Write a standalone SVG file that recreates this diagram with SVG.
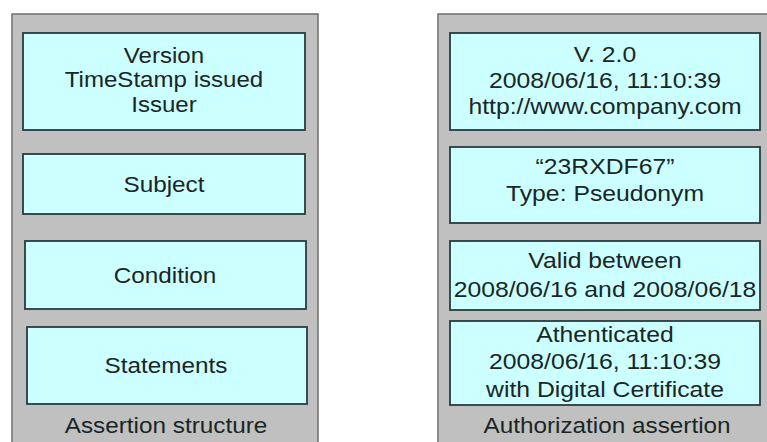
<svg xmlns="http://www.w3.org/2000/svg" width="767" height="442" viewBox="0 0 767 442">
  <style>
    .panel { fill: #c0c0c0; stroke: #6e6e6e; stroke-width: 1.5; }
    .field { fill: #ccffff; stroke: #2a3c3c; stroke-width: 1.8; }
    .t { font-family: "Liberation Sans", Arial, sans-serif; font-size: 22.5px; fill: #1a2626; text-anchor: middle; }
  </style>
  <rect x="0" y="0" width="767" height="442" fill="#ffffff"/>

  <!-- Left panel: generic structure of an assertion -->
  <g id="assertion-structure">
    <rect class="panel" x="12" y="14" width="306" height="440"/>
    <g transform="translate(166 0) scale(1.08 1)">
      <text class="t" x="0" y="433">Assertion structure</text>
    </g>
  </g>
  <g id="header-fields">
    <rect class="field" x="23" y="33" width="282" height="97"/>
    <g transform="translate(164 0) scale(1.07 1)">
      <text class="t" x="0" y="63">Version</text>
      <text class="t" x="0" y="87.5">TimeStamp issued</text>
      <text class="t" x="0" y="112">Issuer</text>
    </g>
  </g>
  <g id="subject">
    <rect class="field" x="23" y="154" width="282" height="60"/>
    <g transform="translate(164 0) scale(1.08 1)">
      <text class="t" x="0" y="192">Subject</text>
    </g>
  </g>
  <g id="condition">
    <rect class="field" x="25" y="241" width="281" height="68"/>
    <g transform="translate(165 0) scale(1.08 1)">
      <text class="t" x="0" y="283">Condition</text>
    </g>
  </g>
  <g id="statements">
    <rect class="field" x="27" y="327" width="280" height="77"/>
    <g transform="translate(166 0) scale(1.08 1)">
      <text class="t" x="0" y="373">Statements</text>
    </g>
  </g>

  <!-- Right panel: a concrete authorization assertion -->
  <g id="authorization-assertion">
    <rect class="panel" x="438" y="14" width="340" height="440"/>
    <g transform="translate(607 0) scale(1.08 1)">
      <text class="t" x="0" y="433">Authorization assertion</text>
    </g>
  </g>
  <g id="header-values">
    <rect class="field" x="450" y="33" width="310" height="97"/>
    <g transform="translate(605 0) scale(1.1 1)">
      <text class="t" x="0" y="62">V. 2.0</text>
      <text class="t" x="0" y="88">2008/06/16, 11:10:39</text>
      <text class="t" x="0" y="114">http://www.company.com</text>
    </g>
  </g>
  <g id="subject-value">
    <rect class="field" x="450" y="147" width="310" height="76"/>
    <g transform="translate(605 0) scale(1.1 1)">
      <text class="t" x="0" y="174">“23RXDF67”</text>
      <text class="t" x="0" y="201">Type: Pseudonym</text>
    </g>
  </g>
  <g id="condition-value">
    <rect class="field" x="450" y="241" width="310" height="69"/>
    <g transform="translate(605 0) scale(1.1 1)">
      <text class="t" x="0" y="268">Valid between</text>
      <text class="t" x="0" y="297">2008/06/16 and 2008/06/18</text>
    </g>
  </g>
  <g id="statement-value">
    <rect class="field" x="450" y="321" width="310" height="84"/>
    <g transform="translate(605 0) scale(1.1 1)">
      <text class="t" x="0" y="342">Athenticated</text>
      <text class="t" x="0" y="369">2008/06/16, 11:10:39</text>
      <text class="t" x="0" y="397">with Digital Certificate</text>
    </g>
  </g>

  <g id="connectors"></g>
</svg>
